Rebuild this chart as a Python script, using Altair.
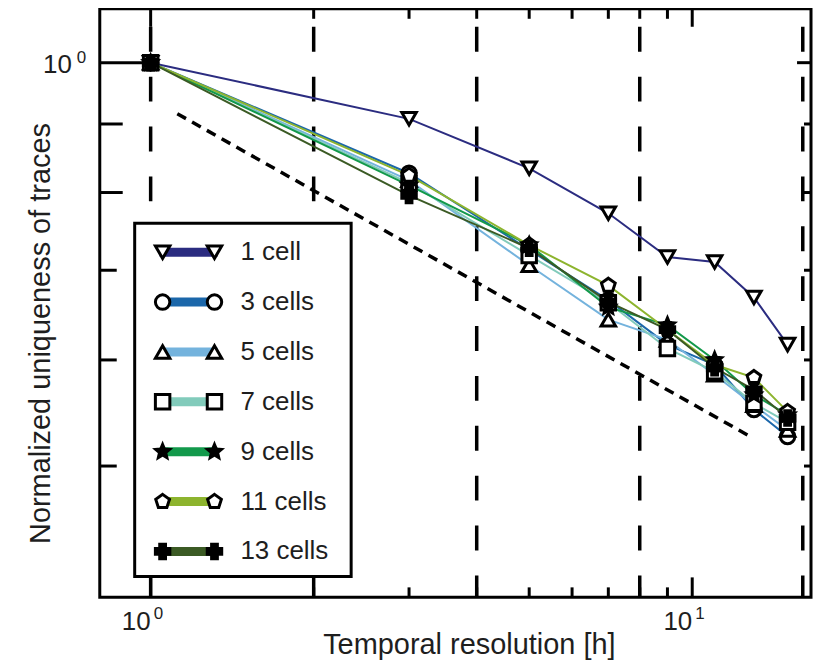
import altair as alt
import pandas as pd

# ---------------- data ----------------
x_vals = [1, 3, 5, 7, 9, 11, 13, 15]
series_names = ["1 cell", "3 cells", "5 cells", "7 cells", "9 cells", "11 cells", "13 cells"]
y_1 = [1.0, 0.908, 0.834, 0.772, 0.716, 0.710, 0.668, 0.616]
y_3 = [1.0, 0.827, 0.725, 0.665, 0.616, 0.595, 0.551, 0.526]
y_5 = [1.0, 0.817, 0.706, 0.643, 0.621, 0.585, 0.555, 0.532]
y_7 = [1.0, 0.813, 0.718, 0.662, 0.612, 0.588, 0.557, 0.539]
y_9 = [1.0, 0.810, 0.731, 0.657, 0.637, 0.600, 0.565, 0.546]
y_11 = [1.0, 0.824, 0.731, 0.682, 0.632, 0.595, 0.582, 0.549]
y_13 = [1.0, 0.796, 0.727, 0.663, 0.632, 0.592, 0.570, 0.543]
all_y = [y_1, y_3, y_5, y_7, y_9, y_11, y_13]

line_colors = ["#2b2c80", "#1b67aa", "#74b3dd", "#82cbbb", "#12994b", "#8db42e", "#3b5a24"]

dot_x = [1.12, 12.8]
dot_y = [0.916, 0.526]

dash_x = [1, 2, 4, 8, 16]
x_major = [1, 10]
x_minor = [2, 3, 4, 5, 6, 7, 8, 9]
y_major = [1.0]
y_minor_long = [0.9, 0.8]
y_minor_short = [0.7, 0.6, 0.5]
x_label_vals = [1, 10]
x_label_exp = ["0", "1"]
y_label_vals = [1.0]
y_label_exp = ["0"]

# ---------------- styles ----------------
W, H = 713, 590
FONT = "Liberation Sans"
TXT = "#1e1e1e"
STAR = "M0,-1 L0.265,-0.364 L0.951,-0.309 L0.428,0.139 L0.588,0.809 L0,0.45 L-0.588,0.809 L-0.428,0.139 L-0.951,-0.309 L-0.265,-0.364 Z"
PENT = "M0,-1 L0.951,-0.309 L0.588,0.809 L-0.588,0.809 L-0.951,-0.309 Z"
shapes = ["triangle-down", "circle", "triangle-up", "square", STAR, PENT, "cross"]
fills = ["white", "white", "white", "white", "black", "white", "black"]

xs = alt.Scale(type="log", domain=[0.8055, 16.57], nice=False)
ys = alt.Scale(type="log", domain=[0.399, 1.097], nice=False)
xa = alt.Axis(title="Temporal resolution [h]", labels=False, ticks=False, domain=False, grid=False,
              titleFont=FONT, titleFontSize=29, titleFontWeight="normal", titleColor=TXT,
              titlePadding=33, titleX=370)
ya = alt.Axis(title="Normalized uniqueness of traces", labels=False, ticks=False, domain=False, grid=False,
              titleFont=FONT, titleFontSize=29, titleFontWeight="normal", titleColor=TXT,
              titlePadding=44, titleY=325)

def X():
    return alt.X("x:Q", scale=xs, axis=xa)

def Y():
    return alt.Y("y:Q", scale=ys, axis=ya)

rows = []
for name, ys_ in zip(series_names, all_y):
    for xv, yv in zip(x_vals, ys_):
        rows.append({"name": name, "x": xv, "y": yv})
df = pd.DataFrame(rows)

color_s = alt.Scale(domain=series_names, range=line_colors)
shape_s = alt.Scale(domain=series_names, range=shapes)
fill_s = alt.Scale(domain=series_names, range=fills)

# vertical dashed lines
dash_layer = alt.Chart(pd.DataFrame({"x": dash_x})).mark_rule(
    color="black", strokeWidth=3.5, strokeDash=[25, 25], strokeDashOffset=32
).encode(x=X())

# dotted reference line
dot_layer = alt.Chart(pd.DataFrame({"x": dot_x, "y": dot_y})).mark_line(
    color="black", strokeWidth=3.5, strokeDash=[10, 7]
).encode(x=X(), y=Y())

lines = alt.Chart(df).mark_line(strokeWidth=2).encode(
    x=X(), y=Y(),
    color=alt.Color("name:N", scale=color_s, legend=None),
    detail="name:N",
)
points = alt.Chart(df).mark_point(filled=True, stroke="black", strokeWidth=3, size=210, opacity=1).encode(
    x=X(), y=Y(),
    shape=alt.Shape("name:N", scale=shape_s, legend=None),
    fill=alt.Fill("name:N", scale=fill_s, legend=None),
)

# ticks (inward)
def xticks(vals, y0, y1):
    return alt.Chart(pd.DataFrame({"x": vals})).mark_rule(color="black", strokeWidth=3).encode(
        x=X(), y=alt.value(y0), y2=alt.value(y1))

def yticks(vals, x0, x1):
    return alt.Chart(pd.DataFrame({"y": vals})).mark_rule(color="black", strokeWidth=3).encode(
        y=Y(), x=alt.value(x0), x2=alt.value(x1))

tick_layers = [
    xticks(x_major, H, H - 20), xticks(x_minor, H, H - 10),
    xticks(x_major, 0, 18), xticks(x_minor, 0, 10),
    yticks(y_major, 0, 43), yticks(y_minor_long, 0, 23), yticks(y_minor_short, 0, 17),
    yticks(y_major, W, W - 14), yticks(y_minor_long + y_minor_short, W, W - 7),
]

# tick labels (10 with superscript exponent)
xl = pd.DataFrame({"x": x_label_vals, "e": x_label_exp})
xlab = alt.Chart(xl).mark_text(text="10", font=FONT, fontSize=26, color=TXT, align="right", baseline="middle").encode(
    x=X(), y=alt.value(H + 25))
xexp = alt.Chart(xl).mark_text(font=FONT, fontSize=17, color=TXT, align="left", baseline="middle", dx=3).encode(
    x=X(), y=alt.value(H + 17), text="e:N")
yl = pd.DataFrame({"y": y_label_vals, "e": y_label_exp})
ylab = alt.Chart(yl).mark_text(text="10", font=FONT, fontSize=26, color=TXT, align="right", baseline="middle", dy=2).encode(
    y=Y(), x=alt.value(-28))
yexp = alt.Chart(yl).mark_text(font=FONT, fontSize=17, color=TXT, align="left", baseline="middle", dy=-5).encode(
    y=Y(), x=alt.value(-23), text="e:N")

# custom legend
leg_df = pd.DataFrame({"name": series_names, "i": list(range(len(series_names)))})
leg_base = alt.Chart(leg_df).transform_calculate(py="244 + 50 * datum.i")
leg_box = alt.Chart(pd.DataFrame({"a": [0]})).mark_rect(fill="white", stroke="black", strokeWidth=3).encode(
    x=alt.value(35), x2=alt.value(252), y=alt.value(215), y2=alt.value(569))
leg_line = leg_base.mark_rule(strokeWidth=9).encode(
    x=alt.value(60), x2=alt.value(118), y=alt.Y("py:Q", scale=None),
    color=alt.Color("name:N", scale=color_s, legend=None))
leg_pts = []
for px in (63, 115):
    leg_pts.append(leg_base.mark_point(filled=True, stroke="black", strokeWidth=3, size=210, opacity=1).encode(
        x=alt.value(px), y=alt.Y("py:Q", scale=None),
        shape=alt.Shape("name:N", scale=shape_s, legend=None),
        fill=alt.Fill("name:N", scale=fill_s, legend=None)))
leg_txt = leg_base.mark_text(font=FONT, fontSize=26, color=TXT, align="left", baseline="middle").encode(
    x=alt.value(141), y=alt.Y("py:Q", scale=None), text="name:N")

chart = alt.layer(
    dash_layer, dot_layer, lines, points, *tick_layers, xlab, xexp, ylab, yexp,
    leg_box, leg_line, *leg_pts, leg_txt,
).properties(
    width=W, height=H,
    autosize=alt.AutoSizeParams(type="none"),
    padding={"left": 92, "top": 0, "right": 2, "bottom": 62},
    background="white",
).configure_view(stroke="black", strokeWidth=3)

chart.save("out.html", embed_options={"renderer": "svg", "actions": False})
